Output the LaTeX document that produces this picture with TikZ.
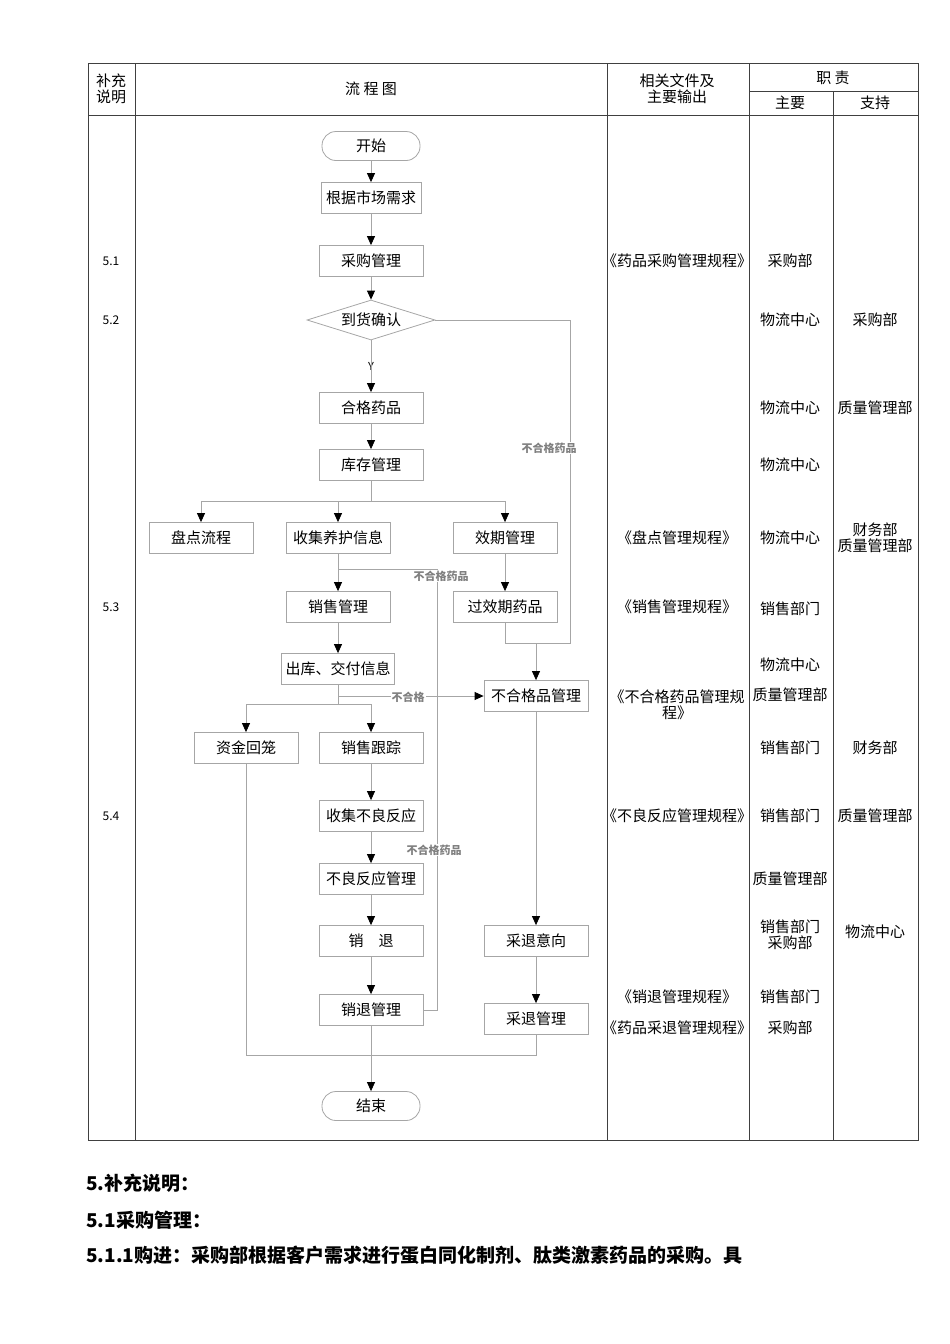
\documentclass[tikz,border=0pt]{standalone}
\usepackage{fontspec}
\setmainfont{Noto Sans CJK SC}
\usetikzlibrary{arrows.meta,shapes.geometric}
\begin{document}
\begin{tikzpicture}[x=1pt,y=-1pt,
  box/.style={draw=gray!70,line width=0.8pt,minimum width=104pt,minimum height=31pt,inner sep=0pt,font=\fontsize{15}{17}\selectfont},
  term/.style={box,rounded corners=14pt,minimum width=98pt,minimum height=29pt},
  dia/.style={draw=gray!70,line width=0.8pt,diamond,aspect=3.2,minimum width=128pt,minimum height=40pt,inner sep=0pt,font=\fontsize{15}{17}\selectfont},
  ln/.style={draw=gray!70,line width=0.8pt},
  ar/.style={ln,-{Triangle[length=9pt,width=8pt,fill=black,color=black]}},
  txt/.style={font=\fontsize{15}{16}\selectfont,align=center,inner sep=0pt},
  lab/.style={font=\fontsize{11}{13}\selectfont\bfseries,text=gray,inner sep=1pt,fill=white},
  grid/.style={draw=black!75,line width=0.9pt}]
\useasboundingbox (0,0) rectangle (950,1344);
% table
\draw[grid] (88,63) rectangle (918,1140);
\draw[grid] (88,115) -- (918,115);
\draw[grid] (135,63) -- (135,1140) (607,63) -- (607,1140) (749,63) -- (749,1140) (833,91) -- (833,1140) (749,91) -- (918,91);
\node[txt] (h1) at (111,89) {补充\\说明};
\node[txt] (h2) at (371,89) {流\ 程\ 图};
\node[txt] (h3) at (677,89) {相关文件及\\主要输出};
\node[txt] (h4) at (833,78) {职\ 责};
\node[txt] (h5) at (790,103) {主要};
\node[txt] (h6) at (875,103) {支持};
% nodes
\node[term] (start) at (371,146) {开始};
\node[box,minimum width=100pt] (need) at (371,198) {根据市场需求};
\node[box] (buy) at (371,261) {采购管理};
\node[dia] (arr) at (371,320) {到货确认};
\node[txt,font=\fontsize{11}{13}\selectfont] (y) at (371,366) {Y};
\node[box] (ok) at (371,408) {合格药品};
\node[box] (stock) at (371,465) {库存管理};
\node[box] (pd) at (201,538) {盘点流程};
\node[box] (sj) at (338,538) {收集养护信息};
\node[box] (xq) at (505,538) {效期管理};
\node[box] (xs) at (338,607) {销售管理};
\node[box] (gq) at (505,607) {过效期药品};
\node[box,minimum width=113pt] (ck) at (338,669) {出库、交付信息};
\node[box] (bhg) at (536,696) {不合格品管理};
\node[box] (zj) at (246,748) {资金回笼};
\node[box] (gz) at (371,748) {销售跟踪};
\node[box] (sjbl) at (371,816) {收集不良反应};
\node[box] (blgl) at (371,879) {不良反应管理};
\node[box] (xt) at (371,941) {销\quad 退};
\node[box] (xtgl) at (371,1010) {销退管理};
\node[box] (ctyx) at (536,941) {采退意向};
\node[box] (ctgl) at (536,1019) {采退管理};
\node[term] (end) at (371,1106) {结束};
% coordinates
\coordinate (b1) at (371,501);
\coordinate (b2) at (338,704);
\coordinate (c1) at (570,320);
\coordinate (c2) at (570,643);
\coordinate (c3) at (536,643);
\coordinate (c4) at (505,643);
\coordinate (d1) at (338,569);
\coordinate (d2) at (437,569);
\coordinate (d3) at (437,1010);
\coordinate (e1) at (536,1055);
\coordinate (e2) at (246,1055);
\coordinate (f1) at (338,696);
% connectors
\draw[ar] (start) -- (need);
\draw[ar] (need) -- (buy);
\draw[ar] (buy) -- (arr);
\draw[ar] (arr) -- (ok);
\draw[ar] (ok) -- (stock);
\draw[ln] (stock) -- (b1);
\draw[ar] (b1) -| (pd);
\draw[ar] (b1) -| (sj);
\draw[ar] (b1) -| (xq);
\draw[ar] (sj) -- (xs);
\draw[ln] (d1) -- (d2) -- (d3) -- (xtgl.east);
\draw[ar] (xq) -- (gq);
\draw[ar] (xs) -- (ck);
\draw[ln] (arr.east) -- (c1) -- (c2) -- (c4) -- (gq.south);
\draw[ar] (c3) -- (bhg);
\draw[ln] (ck) -- (b2);
\draw[ar] (f1) -- (bhg.west);
\draw[ar] (b2) -| (zj);
\draw[ar] (b2) -| (gz);
\draw[ar] (gz) -- (sjbl);
\draw[ar] (sjbl) -- (blgl);
\draw[ar] (blgl) -- (xt);
\draw[ar] (xt) -- (xtgl);
\draw[ar] (xtgl) -- (end);
\draw[ar] (bhg) -- (ctyx);
\draw[ar] (ctyx) -- (ctgl);
\draw[ln] (ctgl) -- (e1) -- (e2) -- (zj);
% labels
\node[lab] (l1) at (549,448) {不合格药品};
\node[lab] (l2) at (441,576) {不合格药品};
\node[lab] (l3) at (408,697) {不合格};
\node[lab] (l4) at (434,850) {不合格药品};
% left numbers
\begin{scope}[every node/.style={txt,font=\fontsize{12}{14}\selectfont}]
\node (n1) at (111,261) {5.1};
\node (n2) at (111,320) {5.2};
\node (n3) at (111,607) {5.3};
\node (n4) at (111,816) {5.4};
\end{scope}
% right column
\node[txt] (r1) at (677,261) {《药品采购管理规程》};
\node[txt] (r2) at (790,261) {采购部};
\node[txt] (r3) at (790,320) {物流中心};
\node[txt] (r4) at (875,320) {采购部};
\node[txt] (r5) at (790,408) {物流中心};
\node[txt] (r6) at (875,408) {质量管理部};
\node[txt] (r7) at (790,465) {物流中心};
\node[txt] (r8) at (677,538) {《盘点管理规程》};
\node[txt] (r9) at (790,538) {物流中心};
\node[txt] (r10) at (875,538) {财务部\\质量管理部};
\node[txt] (r11) at (677,607) {《销售管理规程》};
\node[txt] (r12) at (790,609) {销售部门};
\node[txt] (r13) at (790,665) {物流中心};
\node[txt] (r14) at (790,695) {质量管理部};
\node[txt] (r15) at (677,705) {《不合格药品管理规\\程》};
\node[txt] (r16) at (790,748) {销售部门};
\node[txt] (r17) at (875,748) {财务部};
\node[txt] (r18) at (677,816) {《不良反应管理规程》};
\node[txt] (r19) at (790,816) {销售部门};
\node[txt] (r20) at (875,816) {质量管理部};
\node[txt] (r21) at (790,879) {质量管理部};
\node[txt] (r22) at (790,935) {销售部门\\采购部};
\node[txt] (r23) at (875,932) {物流中心};
\node[txt] (r24) at (677,997) {《销退管理规程》};
\node[txt] (r25) at (790,997) {销售部门};
\node[txt] (r26) at (677,1028) {《药品采退管理规程》};
\node[txt] (r27) at (790,1028) {采购部};
% body text
\begin{scope}[every node/.style={anchor=west,inner sep=0pt,font=\fontsize{19}{21}\selectfont\bfseries}]
\node (t1) at (86,1183) {5.补充说明：};
\node (t2) at (86,1220) {5.1采购管理：};
\node (t3) at (86,1255) {5.1.1购进：采购部根据客户需求进行蛋白同化制剂、肽类激素药品的采购。具};
\end{scope}
\end{tikzpicture}
\end{document}
